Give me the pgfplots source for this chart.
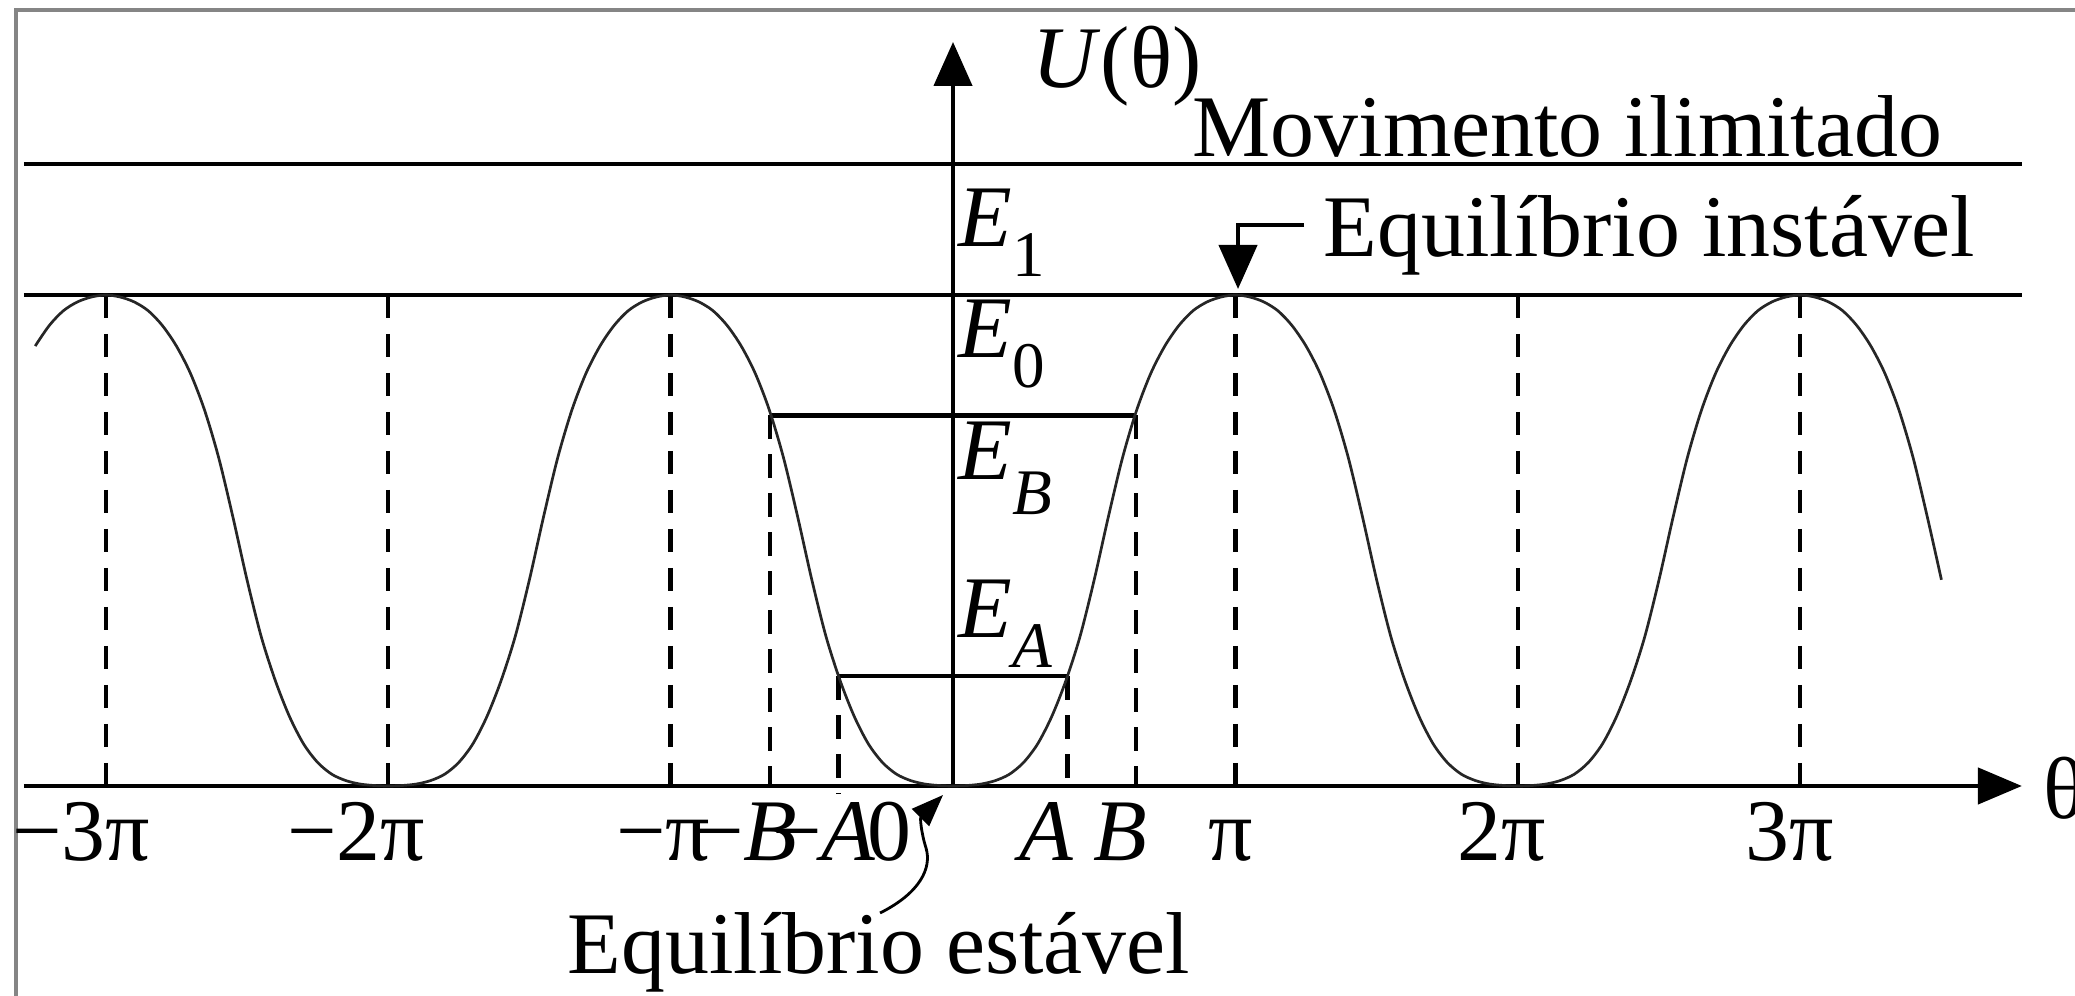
\documentclass[border=0pt]{standalone}
\usepackage{pgfplots}
\pgfplotsset{compat=1.18}
\usetikzlibrary{arrows.meta}
\usepackage{fontspec}
\setmainfont{Liberation Serif}

% subscript for the energy labels
\newcommand\sub[2][3mm]{\raisebox{-#1}{\fontsize{18.5}{20}\selectfont #2}}

\begin{document}
\begin{tikzpicture}[every node/.style={inner sep=0pt, font=\fontsize{25}{30}\selectfont}]
\begin{axis}[
  at={(0,0)}, anchor=south west,
  scale only axis, width=207.5mm, height=99.6mm,
  xmin=-3.37465, xmax=3.97309, ymin=-0.42770, ymax=1.60081,
  hide axis, clip=false,
]
% theta axis and U axis
\draw[line width=0.45mm, -{Triangle[length=4.4mm,width=3.6mm]}]
  (axis cs:-3.290,0) -- (axis cs:3.785,0);
\draw[line width=0.43mm, -{Triangle[length=4.4mm,width=3.8mm]}]
  (axis cs:0,0) -- (axis cs:0,1.5153);

% energy levels E1, E0, EB, EA
\addplot[line width=0.45mm] coordinates {(-3.290,1.2668) (3.785,1.2668)};
\addplot[line width=0.45mm] coordinates {(-3.290,1.0) (3.785,1.0)};
\addplot[line width=0.45mm] coordinates {(-0.648,0.755) (0.648,0.755)};
\addplot[line width=0.45mm] coordinates {(-0.405,0.224) (0.405,0.224)};

% dashed verticals at the extrema and turning points
\pgfplotsset{dashv/.style={line width=0.45mm, dash pattern=on 2.35mm off 1.55mm}}
\addplot[dashv] coordinates {(-3,1) (-3,0)};
\addplot[dashv] coordinates {(-2,1) (-2,0)};
\addplot[dashv] coordinates {(-1,1) (-1,0)};
\addplot[dashv] coordinates {(1,1) (1,0)};
\addplot[dashv] coordinates {(2,1) (2,0)};
\addplot[dashv] coordinates {(3,1) (3,0)};
\addplot[dashv] coordinates {(-0.648,0.755) (-0.648,0)};
\addplot[dashv] coordinates {(0.648,0.755) (0.648,0)};
\addplot[dashv] coordinates {(-0.405,0.224) (-0.405,-0.015)};
\addplot[dashv] coordinates {(0.405,0.224) (0.405,0)};

% potential U(theta), theta in units of pi, U in units of E0
\addplot[line width=0.27mm, black!85, smooth] coordinates {
(-3.25,0.896) (-3.20,0.938) (-3.15,0.968) (-3.10,0.986) (-3.05,0.996) (-3.00,1.000)
(-2.95,0.996) (-2.90,0.986) (-2.85,0.968) (-2.80,0.938) (-2.75,0.896) (-2.70,0.840)
(-2.65,0.765) (-2.60,0.668) (-2.55,0.548) (-2.50,0.420) (-2.45,0.305) (-2.40,0.215)
(-2.35,0.142) (-2.30,0.086) (-2.25,0.048) (-2.20,0.024) (-2.15,0.011) (-2.10,0.004)
(-2.05,0.001) (-2.00,0.000)
(-1.95,0.001) (-1.90,0.004) (-1.85,0.011) (-1.80,0.024) (-1.75,0.048) (-1.70,0.086)
(-1.65,0.142) (-1.60,0.215) (-1.55,0.305) (-1.50,0.420) (-1.45,0.548) (-1.40,0.668)
(-1.35,0.765) (-1.30,0.840) (-1.25,0.896) (-1.20,0.938) (-1.15,0.968) (-1.10,0.986)
(-1.05,0.996) (-1.00,1.000)
(-0.95,0.996) (-0.90,0.986) (-0.85,0.968) (-0.80,0.938) (-0.75,0.896) (-0.70,0.840)
(-0.65,0.765) (-0.60,0.668) (-0.55,0.548) (-0.50,0.420) (-0.45,0.305) (-0.40,0.215)
(-0.35,0.142) (-0.30,0.086) (-0.25,0.048) (-0.20,0.024) (-0.15,0.011) (-0.10,0.004)
(-0.05,0.001) (0.00,0.000)
(0.05,0.001) (0.10,0.004) (0.15,0.011) (0.20,0.024) (0.25,0.048) (0.30,0.086)
(0.35,0.142) (0.40,0.215) (0.45,0.305) (0.50,0.420) (0.55,0.548) (0.60,0.668)
(0.65,0.765) (0.70,0.840) (0.75,0.896) (0.80,0.938) (0.85,0.968) (0.90,0.986)
(0.95,0.996) (1.00,1.000)
(1.05,0.996) (1.10,0.986) (1.15,0.968) (1.20,0.938) (1.25,0.896) (1.30,0.840)
(1.35,0.765) (1.40,0.668) (1.45,0.548) (1.50,0.420) (1.55,0.305) (1.60,0.215)
(1.65,0.142) (1.70,0.086) (1.75,0.048) (1.80,0.024) (1.85,0.011) (1.90,0.004)
(1.95,0.001) (2.00,0.000)
(2.05,0.001) (2.10,0.004) (2.15,0.011) (2.20,0.024) (2.25,0.048) (2.30,0.086)
(2.35,0.142) (2.40,0.215) (2.45,0.305) (2.50,0.420) (2.55,0.548) (2.60,0.668)
(2.65,0.765) (2.70,0.840) (2.75,0.896) (2.80,0.938) (2.85,0.968) (2.90,0.986)
(2.95,0.996) (3.00,1.000)
(3.05,0.996) (3.10,0.986) (3.15,0.968) (3.20,0.938) (3.25,0.896) (3.30,0.840)
(3.35,0.765) (3.40,0.668) (3.45,0.548) (3.50,0.420)
};
\end{axis}

% labels and annotations (units of 0.1 mm, measured from the top-left corner)
\begin{scope}[x=0.1mm, y=-0.1mm, shift={(0,99.6mm)}]
  \draw[line width=0.4mm, black!48] (16,1200) -- (16,10) -- (2300,10);

  \node[anchor=base west] at (1032,88) {\textit{U}(θ)};
  \node[anchor=base west] at (1192,157) {Movimento ilimitado};
  \node[anchor=base west] at (1323,257) {Equilíbrio instável};
  \node[anchor=base west] at (567,973) {Equilíbrio estável};
  \node[anchor=base west] at (2043,818) {θ};

  \node[anchor=base west] at (958,247) {\textit{E}\sub{1}};
  \node[anchor=base west] at (958,358) {\textit{E}\sub{0}};
  \node[anchor=base west] at (958,480) {\textit{E}\sub[3.5mm]{\textit{B}}};
  \node[anchor=base west] at (958,638) {\textit{E}\sub{\textit{A}}};

  \node[anchor=base] at (81,860) {−3π};
  \node[anchor=base] at (356,860) {−2π};
  \node[anchor=base] at (663,860) {−π};
  \node[anchor=base] at (746,860) {−\textit{B}};
  \node[anchor=base] at (824,860) {−\textit{A}};
  \node[anchor=base] at (889,860) {0};
  \node[anchor=base] at (1046,860) {\textit{A}};
  \node[anchor=base] at (1120,860) {\textit{B}};
  \node[anchor=base] at (1231,860) {π};
  \node[anchor=base] at (1502,860) {2π};
  \node[anchor=base] at (1790,860) {3π};

  \draw[line width=0.42mm, -{Triangle[length=4.4mm,width=3.8mm]}]
    (1304,225) -- (1238,225) -- (1238,289);
  \draw[line width=0.28mm, -{Triangle[length=3.2mm,width=2.4mm]}]
    (880,913) .. controls (920,893) and (932,868) .. (926,848)
    .. controls (921,832) and (920,818) .. (943,795);
\end{scope}

\pgfresetboundingbox
\path (0,0) rectangle (207.5mm,99.6mm);
\end{tikzpicture}
\end{document}
